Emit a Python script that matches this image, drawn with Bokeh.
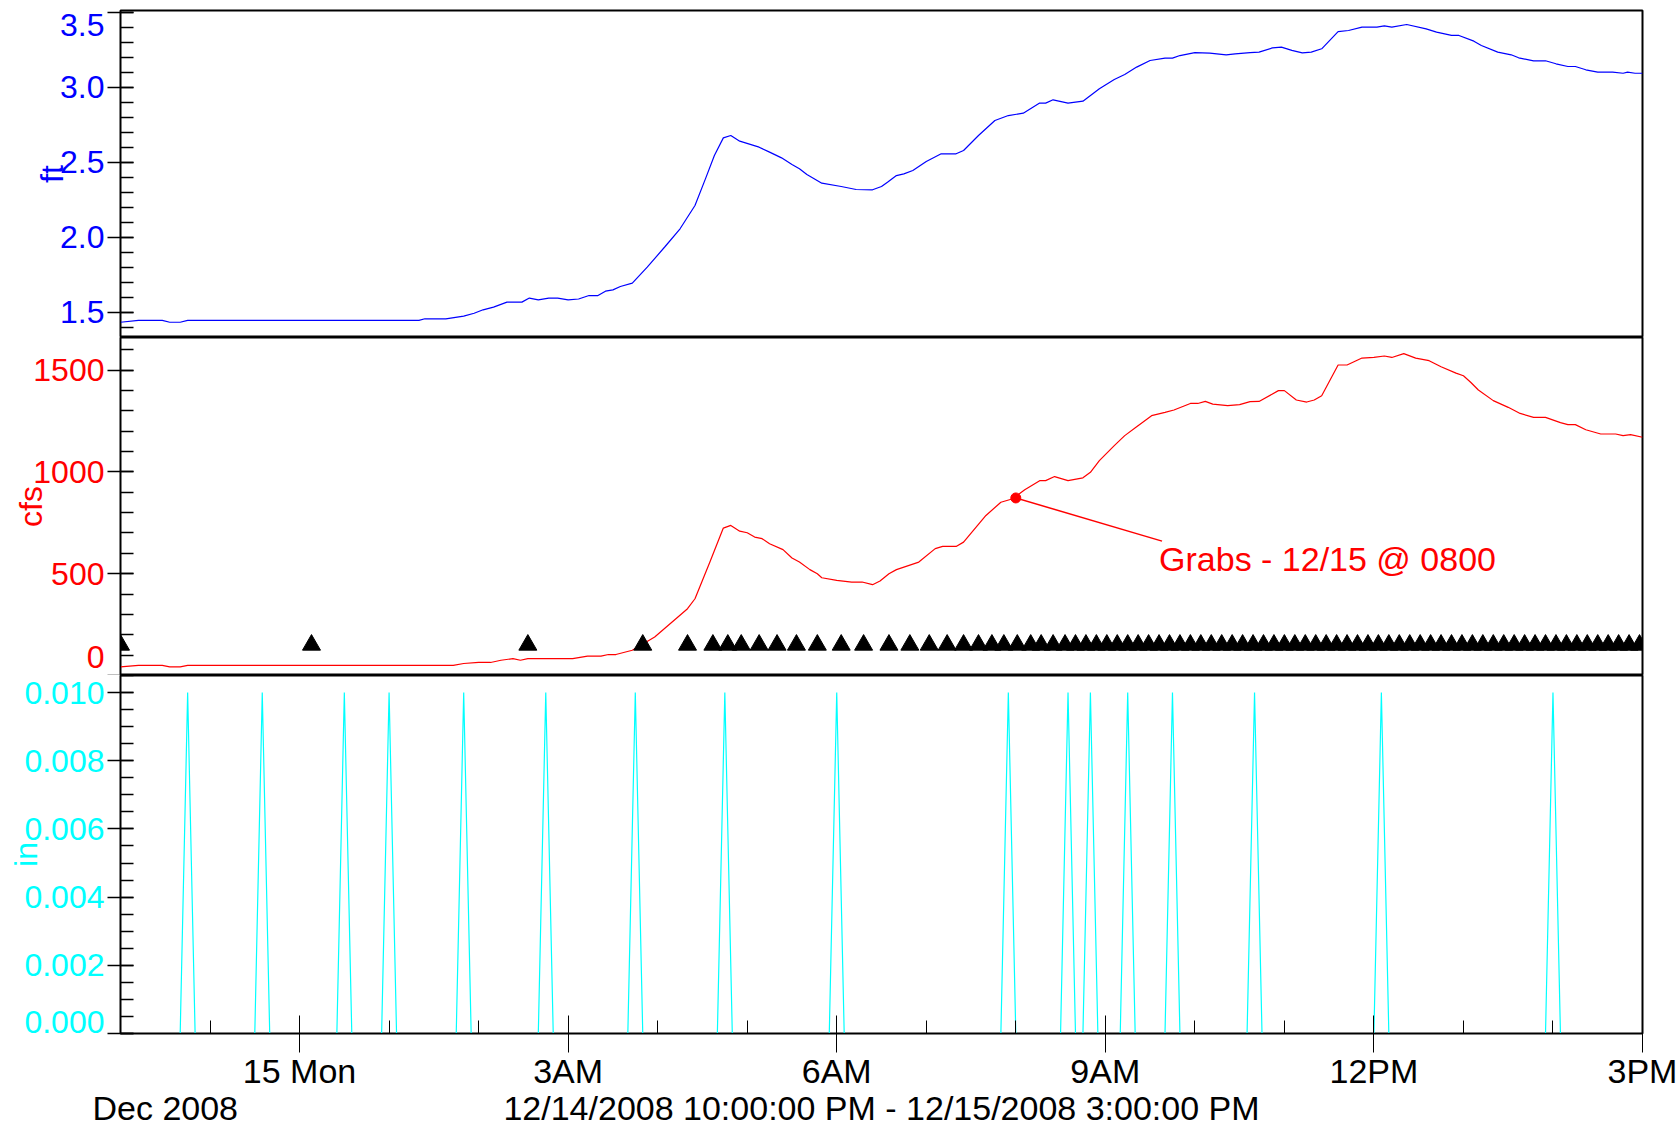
import pandas as pd
from bokeh.plotting import figure
from bokeh.layouts import column
from bokeh.models import (Range1d, SingleIntervalTicker, FixedTicker, LinearAxis,
                          CustomJSTickFormatter, Label, ColumnDataSource)
from bokeh.embed import file_html
from bokeh.resources import INLINE

# ---------------- data ----------------
START = pd.Timestamp("2008-12-14 22:00")
END = pd.Timestamp("2008-12-15 15:00")

# stage (ft), minutes after 12/14 22:00
stage_min = [0, 12, 28, 33, 40, 45, 200, 204, 218, 230, 237, 243, 250, 259, 269, 274, 280, 287,
             293, 300, 307, 314, 320, 325, 330, 335, 343, 353, 365, 375, 385, 392, 398, 404, 409,
             415, 428, 435, 443, 450, 455, 460, 470, 483, 493, 504, 510, 514, 520, 525, 531, 540,
             550, 560, 565, 575, 586, 595, 605, 616, 620, 625, 635, 645, 656, 666, 673, 681, 690,
             700, 705, 710, 720, 730, 741, 747, 757, 763, 772, 778, 785, 792, 798, 805, 816, 823,
             832, 842, 847, 852, 862, 875, 882, 892, 897, 907, 912, 923, 932, 937, 947, 955, 962,
             970, 975, 982, 990, 1000, 1007, 1010, 1015, 1020]
stage_ft = [1.435, 1.447, 1.447, 1.435, 1.435, 1.447, 1.447, 1.458, 1.458, 1.476, 1.495, 1.518,
            1.536, 1.569, 1.569, 1.596, 1.584, 1.596, 1.596, 1.584, 1.590, 1.613, 1.613, 1.642,
            1.651, 1.673, 1.696, 1.802, 1.940, 2.058, 2.213, 2.391, 2.547, 2.664, 2.680, 2.642,
            2.602, 2.569, 2.531, 2.487, 2.458, 2.420, 2.362, 2.340, 2.320, 2.318, 2.340, 2.369,
            2.413, 2.424, 2.447, 2.507, 2.558, 2.558, 2.580, 2.680, 2.780, 2.813, 2.829, 2.896,
            2.896, 2.918, 2.896, 2.909, 2.991, 3.053, 3.087, 3.136, 3.180, 3.196, 3.196, 3.213,
            3.233, 3.229, 3.218, 3.224, 3.233, 3.236, 3.264, 3.269, 3.247, 3.231, 3.236, 3.258,
            3.373, 3.380, 3.402, 3.402, 3.411, 3.402, 3.420, 3.391, 3.369, 3.347, 3.347, 3.309,
            3.280, 3.236, 3.218, 3.198, 3.178, 3.178, 3.158, 3.140, 3.140, 3.118, 3.102, 3.102,
            3.095, 3.102, 3.095, 3.095]

# discharge (cfs)
flow_min = [0, 12, 28, 33, 40, 45, 223, 230, 240, 248, 255, 263, 268, 273, 303, 313, 322, 327,
            332, 343, 358, 373, 380, 385, 395, 404, 409, 415, 420, 425, 430, 435, 444, 450, 455,
            462, 467, 470, 480, 490, 497, 504, 509, 515, 520, 535, 546, 551, 560, 565, 580, 590,
            598, 606, 616, 620, 626, 635, 645, 650, 656, 666, 673, 681, 691, 700, 706, 717, 722,
            727, 732, 742, 750, 757, 763, 776, 780, 788, 795, 800, 805, 816, 822, 832, 840, 847,
            852, 860, 868, 877, 885, 895, 900, 905, 910, 920, 930, 938, 947, 955, 965, 970, 975,
            982, 992, 1002, 1007, 1012, 1020]
flow_cfs = [42, 50, 50, 42, 42, 50, 50, 59, 64, 64, 75, 83, 75, 83, 83, 95, 95, 103, 103, 124,
            189, 284, 328, 377, 557, 724, 737, 709, 701, 680, 672, 647, 618, 577, 557, 520, 500,
            480, 467, 459, 459, 446, 464, 500, 520, 557, 623, 634, 634, 655, 786, 851, 868, 912,
            957, 957, 977, 957, 971, 998, 1055, 1129, 1178, 1222, 1276, 1292, 1304, 1336, 1336,
            1346, 1333, 1325, 1330, 1345, 1346, 1399, 1399, 1353, 1343, 1353, 1374, 1525, 1525,
            1559, 1562, 1569, 1562, 1581, 1559, 1546, 1516, 1485, 1472, 1439, 1402, 1350, 1317,
            1287, 1268, 1268, 1242, 1232, 1232, 1207, 1186, 1186, 1178, 1183, 1170]

# sample markers (minutes), plotted at a fixed level
sample_min = [0, 128, 273, 350, 380, 397, 407, 416, 428, 440, 453, 467, 483, 498, 515, 529, 542,
              554, 565, 575, 584, 592, 601, 610, 617, 625, 633, 640, 647, 654, 661, 668, 675, 682,
              689, 696, 703, 710, 717, 724, 731, 738, 745, 752, 759, 766, 773, 780, 787, 794, 801,
              808, 815, 822, 829, 836, 843, 850, 857, 864, 871, 878, 885, 892, 899, 906, 913, 920,
              927, 934, 941, 948, 955, 962, 969, 976, 983, 990, 997, 1004, 1011, 1018]
sample_level_cfs = 150

# rainfall (in), 5-minute record; tips of 0.01 in at these minutes
rain_tip_min = [45, 95, 150, 180, 230, 285, 345, 405, 480, 595, 635, 650, 675, 705, 760, 845, 960]
rain_tip_in = 0.01
rain_step_min = 5

# grab sample annotation
grab_min, grab_cfs = 600, 872
grab_text = "Grabs - 12/15 @ 0800"
grab_text_min, grab_text_cfs = 696, 570
grab_leader_min, grab_leader_cfs = 698, 660

# axis ticks / labels
ft_ticks = [1.5, 2.0, 2.5, 3.0, 3.5]
ft_labels = ["1.5", "2.0", "2.5", "3.0", "3.5"]
cfs_ticks = [0, 500, 1000, 1500]
cfs_labels = ["0", "500", "1000", "1500"]
in_ticks = [0.0, 0.002, 0.004, 0.006, 0.008, 0.010]
in_labels = ["0.000", "0.002", "0.004", "0.006", "0.008", "0.010"]
x_major_hours = [2, 5, 8, 11, 14, 17]
x_major_labels = ["15 Mon", "3AM", "6AM", "9AM", "12PM", "3PM"]
x_minor_hours = list(range(1, 18))
x_axis_title = "12/14/2008 10:00:00 PM - 12/15/2008 3:00:00 PM"
x_month_label = "Dec 2008"
x_month_label_min = 30

# ---------------- helpers ----------------
def t(m):
    return START + pd.Timedelta(minutes=m)

def ms(ts):
    return float(ts.value // 10**6)

FONT = "Liberation Sans"
YFS = "32px"
XFS = "34px"
BLUE, RED, CYAN = "#0000FF", "#FF0000", "#00FFFF"
W = 1680
BL, BR = 120, 38

xr = Range1d(start=START, end=END)

def base_fig(height, yr, top, bottom, show_x):
    p = figure(width=W, height=height, x_range=xr, y_range=yr, x_axis_type="datetime",
               x_axis_location="below" if show_x else None,
               output_backend="svg", toolbar_location=None,
               min_border_left=BL, min_border_right=BR,
               min_border_top=top, min_border_bottom=bottom)
    p.grid.visible = False
    p.outline_line_color = "black"
    p.outline_line_width = 2
    p.background_fill_color = "white"
    p.border_fill_color = "white"
    return p

def style_y(p, frame_h, color, interval, minors, ticks, labels, edge_idx, edge_px, label,
            label_standoff):
    # tick marks (closest to the frame), no text
    ax = p.yaxis[0]
    ax.ticker = SingleIntervalTicker(interval=interval, num_minor_ticks=minors)
    ax.formatter = CustomJSTickFormatter(code="return ''")
    ax.major_label_standoff = 0
    ax.major_tick_in = 13
    ax.major_tick_out = 13
    ax.minor_tick_in = 13
    ax.minor_tick_out = 0
    ax.major_tick_line_color = "black"
    ax.minor_tick_line_color = "black"
    ax.major_tick_line_width = 1.5
    ax.minor_tick_line_width = 1.5
    ax.axis_line_color = "black"
    # tick labels + axis title; the label at the frame edge is nudged inward as in the original
    yr = p.y_range
    per_px = (yr.end - yr.start) / frame_h
    pos = list(ticks)
    pos[edge_idx] = ticks[edge_idx] + edge_px * per_px
    p.extra_y_ranges = {"labels": yr}
    lab = LinearAxis(y_range_name="labels", ticker=FixedTicker(ticks=pos, minor_ticks=[]),
                     major_label_overrides=dict(zip(pos, labels)))
    lab.major_tick_in = 0
    lab.major_tick_out = 0
    lab.minor_tick_in = 0
    lab.minor_tick_out = 0
    lab.axis_line_color = None
    lab.major_tick_line_color = None
    lab.minor_tick_line_color = None
    lab.major_label_standoff = 3
    lab.major_label_text_color = color
    lab.major_label_text_font = FONT
    lab.major_label_text_font_size = YFS
    lab.axis_label = label
    lab.axis_label_text_color = color
    lab.axis_label_text_font = FONT
    lab.axis_label_text_font_size = YFS
    lab.axis_label_text_font_style = "normal"
    lab.axis_label_standoff = label_standoff
    p.add_layout(lab, "left")

# ---------------- top: stage ----------------
p1 = base_fig(337, Range1d(1.3333, 3.5133), 10, 0, False)
style_y(p1, 327, BLUE, 0.5, 5, ft_ticks, ft_labels, 4, -13, "ft", -13)
src1 = ColumnDataSource(dict(x=[t(m) for m in stage_min], y=stage_ft))
p1.line("x", "y", source=src1, line_color=BLUE, line_width=1.2)

# ---------------- middle: discharge ----------------
p2 = base_fig(338, Range1d(0, 1660), 0, 0, False)
style_y(p2, 338, RED, 500, 5, cfs_ticks, cfs_labels, 0, 19, "cfs", -19)
src2 = ColumnDataSource(dict(x=[t(m) for m in flow_min], y=flow_cfs))
p2.line("x", "y", source=src2, line_color=RED, line_width=1.2)
src_s = ColumnDataSource(dict(x=[t(m) for m in sample_min], y=[sample_level_cfs] * len(sample_min)))
p2.scatter("x", "y", source=src_s, marker="triangle", size=18, fill_color="black",
           line_color="black")
p2.segment(x0=[t(grab_min)], y0=[grab_cfs], x1=[t(grab_leader_min)], y1=[grab_leader_cfs],
           line_color=RED, line_width=1.5)
p2.scatter([t(grab_min)], [grab_cfs], marker="circle", size=10, fill_color=RED, line_color=RED)
p2.add_layout(Label(x=ms(t(grab_text_min)), y=grab_text_cfs, text=grab_text, text_color=RED,
                    text_font=FONT, text_font_size=XFS, text_baseline="middle",
                    text_align="left"))

# ---------------- bottom: rainfall ----------------
p3 = base_fig(454, Range1d(0, 0.0105), 0, 96, True)
style_y(p3, 358, CYAN, 0.002, 4, in_ticks, in_labels, 0, 12, "in", -23)
rain_x = list(range(0, 1021, rain_step_min))
rain_y = [rain_tip_in if m in rain_tip_min else 0.0 for m in rain_x]
src3 = ColumnDataSource(dict(x=[t(m) for m in rain_x], y=rain_y))
p3.line("x", "y", source=src3, line_color=CYAN, line_width=1.2)

xa = p3.xaxis[0]
major_ms = [ms(START + pd.Timedelta(hours=h)) for h in x_major_hours]
minor_ms = [ms(START + pd.Timedelta(hours=h)) for h in x_minor_hours]
xa.ticker = FixedTicker(ticks=major_ms, minor_ticks=minor_ms)
xa.major_label_overrides = dict(zip(major_ms, x_major_labels))
xa.major_label_text_font = FONT
xa.major_label_text_font_size = XFS
xa.major_label_text_color = "black"
xa.major_label_standoff = -1
xa.major_tick_in = 18
xa.major_tick_out = 19
xa.minor_tick_in = 13
xa.minor_tick_out = 0
xa.major_tick_line_color = "black"
xa.minor_tick_line_color = "black"
xa.axis_line_color = "black"

month_ms = ms(t(x_month_label_min))
xa2 = LinearAxis(ticker=FixedTicker(ticks=[month_ms], minor_ticks=[]),
                 major_label_overrides={month_ms: x_month_label})
xa2.axis_line_color = None
xa2.major_tick_line_color = None
xa2.minor_tick_line_color = None
xa2.major_tick_in = 0
xa2.major_tick_out = 0
xa2.minor_tick_in = 0
xa2.minor_tick_out = 0
xa2.major_label_standoff = -4
xa2.major_label_text_font = FONT
xa2.major_label_text_font_size = XFS
xa2.major_label_text_color = "black"
xa2.axis_label = x_axis_title
xa2.axis_label_text_font = FONT
xa2.axis_label_text_font_size = XFS
xa2.axis_label_text_font_style = "normal"
xa2.axis_label_text_color = "black"
xa2.axis_label_standoff = -41
p3.add_layout(xa2, "below")

layout = column(p1, p2, p3, spacing=0)
open("out.html", "w").write(file_html(layout, INLINE))
